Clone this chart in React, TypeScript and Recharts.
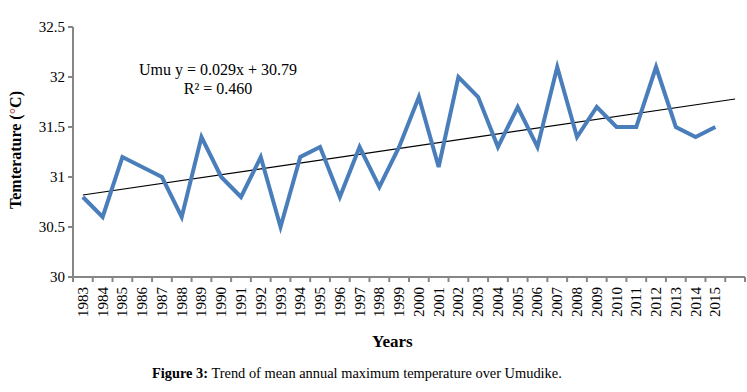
import { LineChart, Line, XAxis, YAxis } from 'recharts'

const years = [
  '1983', '1984', '1985', '1986', '1987', '1988', '1989', '1990', '1991', '1992', '1993',
  '1994', '1995', '1996', '1997', '1998', '1999', '2000', '2001', '2002', '2003', '2004',
  '2005', '2006', '2007', '2008', '2009', '2010', '2011', '2012', '2013', '2014', '2015', '',
]

const temps = [
  30.8, 30.6, 31.2, 31.1, 31.0, 30.6, 31.4, 31.0, 30.8, 31.2, 30.5,
  31.2, 31.3, 30.8, 31.3, 30.9, 31.3, 31.8, 31.1, 32.0, 31.8, 31.3,
  31.7, 31.3, 32.1, 31.4, 31.7, 31.5, 31.5, 32.1, 31.5, 31.4, 31.5,
]

// linear trend endpoints (first and last band)
const trendStart = 30.82
const trendEnd   = 31.78

const yTicks = [30, 30.5, 31, 31.5, 32, 32.5]

const data = years.map((year, i) => ({
  year,
  temp:  i < temps.length ? temps[i] : null,
  trend: i === 0 ? trendStart : i === years.length - 1 ? trendEnd : null,
}))

const serif = "'Liberation Serif', 'Times New Roman', serif"
const axisGray = '#868686'
const TICK_GAP = 10

// year label plus the tick marks on the band edges
function YearTick({ x, y, payload, index, width, visibleTicksCount }: any) {
  const half = width / visibleTicksCount / 2
  const top = y - TICK_GAP
  return (
    <g>
      <line x1={x - half} x2={x - half} y1={top} y2={top + 5} stroke={axisGray} strokeWidth={2} />
      {index === visibleTicksCount - 1 && (
        <line x1={x + half} x2={x + half} y1={top} y2={top + 5} stroke={axisGray} strokeWidth={2} />
      )}
      <g transform={`translate(${x},${y})`}>
        <text transform="rotate(-90)" textAnchor="end" x={0} y={0} dy={5}
          fontFamily={serif} fontSize={15} fill="#000">
          {payload.value}
        </text>
      </g>
    </g>
  )
}

export default function App() {
  return (
    <div style={{ position: 'absolute', left: 0, top: 0, width: 747, height: 392, background: '#fff' }}>
      <LineChart width={747} height={392} data={data}
        margin={{ top: 27, right: 2, bottom: 0, left: 0 }}>
        <XAxis dataKey="year" scale="band" interval={0} tickLine={false}
          axisLine={{ stroke: axisGray, strokeWidth: 2 }}
          height={115} tick={<YearTick />} tickMargin={0} tickSize={TICK_GAP} />
        <YAxis domain={[30, 32.5]} ticks={yTicks} width={73} interval={0}
          tickSize={5} tickMargin={3}
          axisLine={{ stroke: axisGray, strokeWidth: 2 }}
          tickLine={{ stroke: axisGray, strokeWidth: 2 }}
          tick={{ fontFamily: serif, fontSize: 15, fill: '#000' }}
          tickFormatter={(v) => String(v)} />
        <Line dataKey="trend" stroke="#000" strokeWidth={1.2} dot={false}
          connectNulls isAnimationActive={false} />
        <Line dataKey="temp" stroke="#4a7ebb" strokeWidth={4} dot={false}
          strokeLinejoin="miter" isAnimationActive={false} />
      </LineChart>
      <div style={{
        position: 'absolute', left: 4, top: 150, transform: 'translate(-50%,-50%) rotate(-90deg)',
        marginLeft: 12, fontFamily: serif, fontWeight: 'bold', fontSize: 16, whiteSpace: 'nowrap',
      }}>Temterature (<span style={{ color: '#c0504d' }}>°</span>C)</div>
      <div style={{
        position: 'absolute', left: 0, width: 320, marginLeft: 58, top: 60,
        textAlign: 'center', fontFamily: serif, fontSize: 16, lineHeight: '19px',
      }}>
        Umu y = 0.029x + 30.79<br />R² = 0.460
      </div>
      <div style={{
        position: 'absolute', left: 372, top: 332, fontFamily: serif, fontWeight: 'bold', fontSize: 17,
      }}>Years</div>
      <div style={{
        position: 'absolute', left: 152, top: 365, fontFamily: serif, fontSize: 14.4,
      }}><b>Figure 3:</b> Trend of mean annual maximum temperature over Umudike.</div>
    </div>
  )
}
